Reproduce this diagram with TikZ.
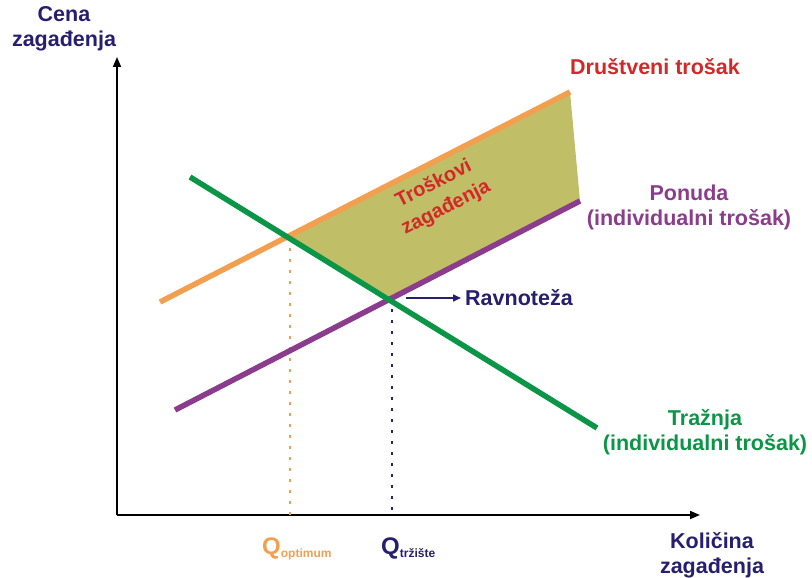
\documentclass[tikz,border=0pt]{standalone}
\usepackage{fontspec}
\setmainfont{Liberation Sans}
\usetikzlibrary{arrows.meta}
\definecolor{navy}{RGB}{38,30,110}
\definecolor{corange}{RGB}{242,160,80}
\definecolor{cpurple}{RGB}{140,60,140}
\definecolor{cgreen}{RGB}{10,150,70}
\definecolor{cred}{RGB}{210,40,40}
\definecolor{cfill}{RGB}{193,190,104}
\tikzset{
  lbl/.style={font=\bfseries\fontsize{21.5}{25}\selectfont, align=center, inner sep=0pt},
  curve/.style={line width=5.5pt},
  axis/.style={line width=1.8pt, black, -{Triangle[length=10pt,width=8pt]}},
  guide/.style={line width=1.6pt, dash pattern=on 3pt off 8pt}
}
\begin{document}
\begin{tikzpicture}[x=1pt,y=-1pt]
\useasboundingbox (0,0) rectangle (812,578);
% coordinates
\coordinate (O) at (117,515);
\coordinate (ytop) at (117,57);
\coordinate (xend) at (700,515);
\coordinate (soA) at (160,302);
\coordinate (soB) at (570,92);
\coordinate (puA) at (175,410);
\coordinate (puB) at (580,201);
\coordinate (grA) at (190,177);
\coordinate (grB) at (597,428);
\coordinate (E1) at (290,237);
\coordinate (E2) at (392,298);
\coordinate (E1b) at (290,515);
\coordinate (E2b) at (392,515);
% shaded area
\fill[cfill] (E1) -- (soB) -- (puB) -- (E2) -- cycle;
% axes
\draw[axis] (O) -- (ytop);
\draw[axis] (O) -- (xend);
% guides
\draw[guide, corange] (E1) -- (E1b);
\draw[guide, navy] (E2) -- (E2b);
% curves
\draw[curve, corange] (soA) -- (soB);
\draw[curve, cpurple] (puA) -- (puB);
\draw[curve, cgreen] (grA) -- (grB);
% labels
\node[lbl, navy] (ylab) at (64,29) {Cena\\zagađenja};
\node[lbl, navy] (xlab) at (712,555) {Količina\\zagađenja};
\node[lbl, cred] (soc) at (655,67) {Društveni trošak};
\node[lbl, cpurple] (pon) at (689,207) {Ponuda\\(individualni trošak)};
\node[lbl, cgreen] (tra) at (705,432) {Tražnja\\(individualni trošak)};
\node[lbl, cred, rotate=27, font=\bfseries\fontsize{20}{27}\selectfont] (tro) at (440,196) {Troškovi\\zagađenja};
\node[lbl, navy, anchor=west] (rav) at (465,298) {Ravnoteža};
\coordinate (ravS) at (406,298);
\draw[navy, line width=1.5pt, -{Triangle[length=8pt,width=7pt]}] (ravS) -- ([xshift=-4pt]rav.west);
\node[lbl, corange, anchor=base west] (qo) at (262,554) {\fontsize{24}{26}\selectfont Q\raisebox{-3pt}{\fontsize{12}{14}\selectfont optimum}};
\node[lbl, navy, anchor=base west] (qt) at (381,554) {\fontsize{24}{26}\selectfont Q\raisebox{-3pt}{\fontsize{12}{14}\selectfont tržište}};
\end{tikzpicture}
\end{document}
